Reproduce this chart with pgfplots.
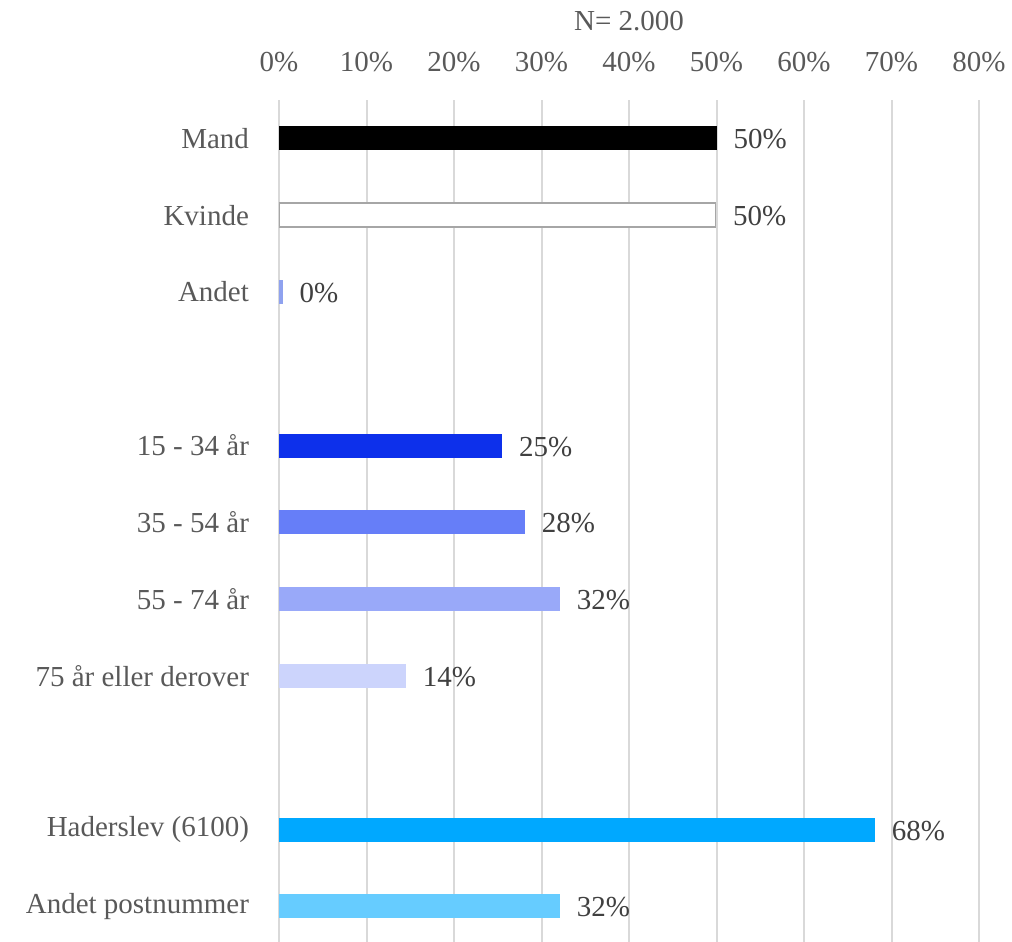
\documentclass[border=0pt]{standalone}
\usepackage{pgfplots}
\pgfplotsset{compat=1.18}
\usepackage{fontspec}
\setmainfont{Liberation Serif}
\definecolor{txt}{HTML}{595959}
\definecolor{lbl}{HTML}{404040}
\definecolor{grd}{HTML}{D9D9D9}
\definecolor{cAndet}{HTML}{8FA2EF}
\definecolor{cA}{HTML}{0D30EB}
\definecolor{cB}{HTML}{667EF8}
\definecolor{cC}{HTML}{99A9F9}
\definecolor{cD}{HTML}{CCD4FC}
\definecolor{cH}{HTML}{00A8FF}
\definecolor{cP}{HTML}{66CCFF}
\newcommand{\fs}{\fontsize{14.5}{17}\selectfont}
\begin{document}
\fs
\begin{tikzpicture}
\useasboundingbox (0,0) rectangle (506pt,471pt);
\begin{axis}[
  at={(139.5pt,-1.4pt)}, anchor=south west,
  width=350pt, height=422.4pt, scale only axis,
  xmin=0, xmax=80, ymin=-0.5, ymax=10.5,
  enlargelimits=false,
  y dir=reverse,
  xbar, bar width=12pt, bar shift=0pt,
  axis line style={draw=none},
  major tick length=0pt,
  xtick={0,10,...,80},
  xticklabel pos=upper,
  xticklabel={\pgfmathprintnumber{\tick}\%},
  /pgf/number format/assume math mode=true,
  xticklabel style={font=\fs, text=txt, anchor=base, yshift=14.5pt},
  ytick={0,1,2,4,5,6,7,9,10},
  yticklabels={Mand,Kvinde,Andet,15 - 34 år,35 - 54 år,55 - 74 år,75 år eller derover,Haderslev (6100),Andet postnummer},
  yticklabel style={font=\fs, text=txt, xshift=-10pt},
  xmajorgrids, grid style={draw=grd, line width=1pt},
  title={N= 2.000},
  title style={font=\fs, text=txt, at={(0.5,1)}, anchor=base, yshift=29pt},
  point meta=explicit symbolic,
  nodes near coords={\pgfplotspointmeta},
  nodes near coords style={font=\fs, text=lbl, anchor=west, xshift=3.5pt, yshift=-0.5pt},
]
\addplot[fill=black, draw=none] coordinates {(50.0,0) [50\%]};
\addplot[fill=white, draw=gray!70, line width=0.8pt] coordinates {(49.9,1) [50\%]};
\addplot[fill=cAndet, draw=none] coordinates {(0.4,2) [0\%]};
\addplot[fill=cA, draw=none] coordinates {(25.5,4) [25\%]};
\addplot[fill=cB, draw=none] coordinates {(28.1,5) [28\%]};
\addplot[fill=cC, draw=none] coordinates {(32.1,6) [32\%]};
\addplot[fill=cD, draw=none] coordinates {(14.5,7) [14\%]};
\addplot[fill=cH, draw=none] coordinates {(68.1,9) [68\%]};
\addplot[fill=cP, draw=none] coordinates {(32.1,10) [32\%]};
\end{axis}
\end{tikzpicture}
\end{document}
